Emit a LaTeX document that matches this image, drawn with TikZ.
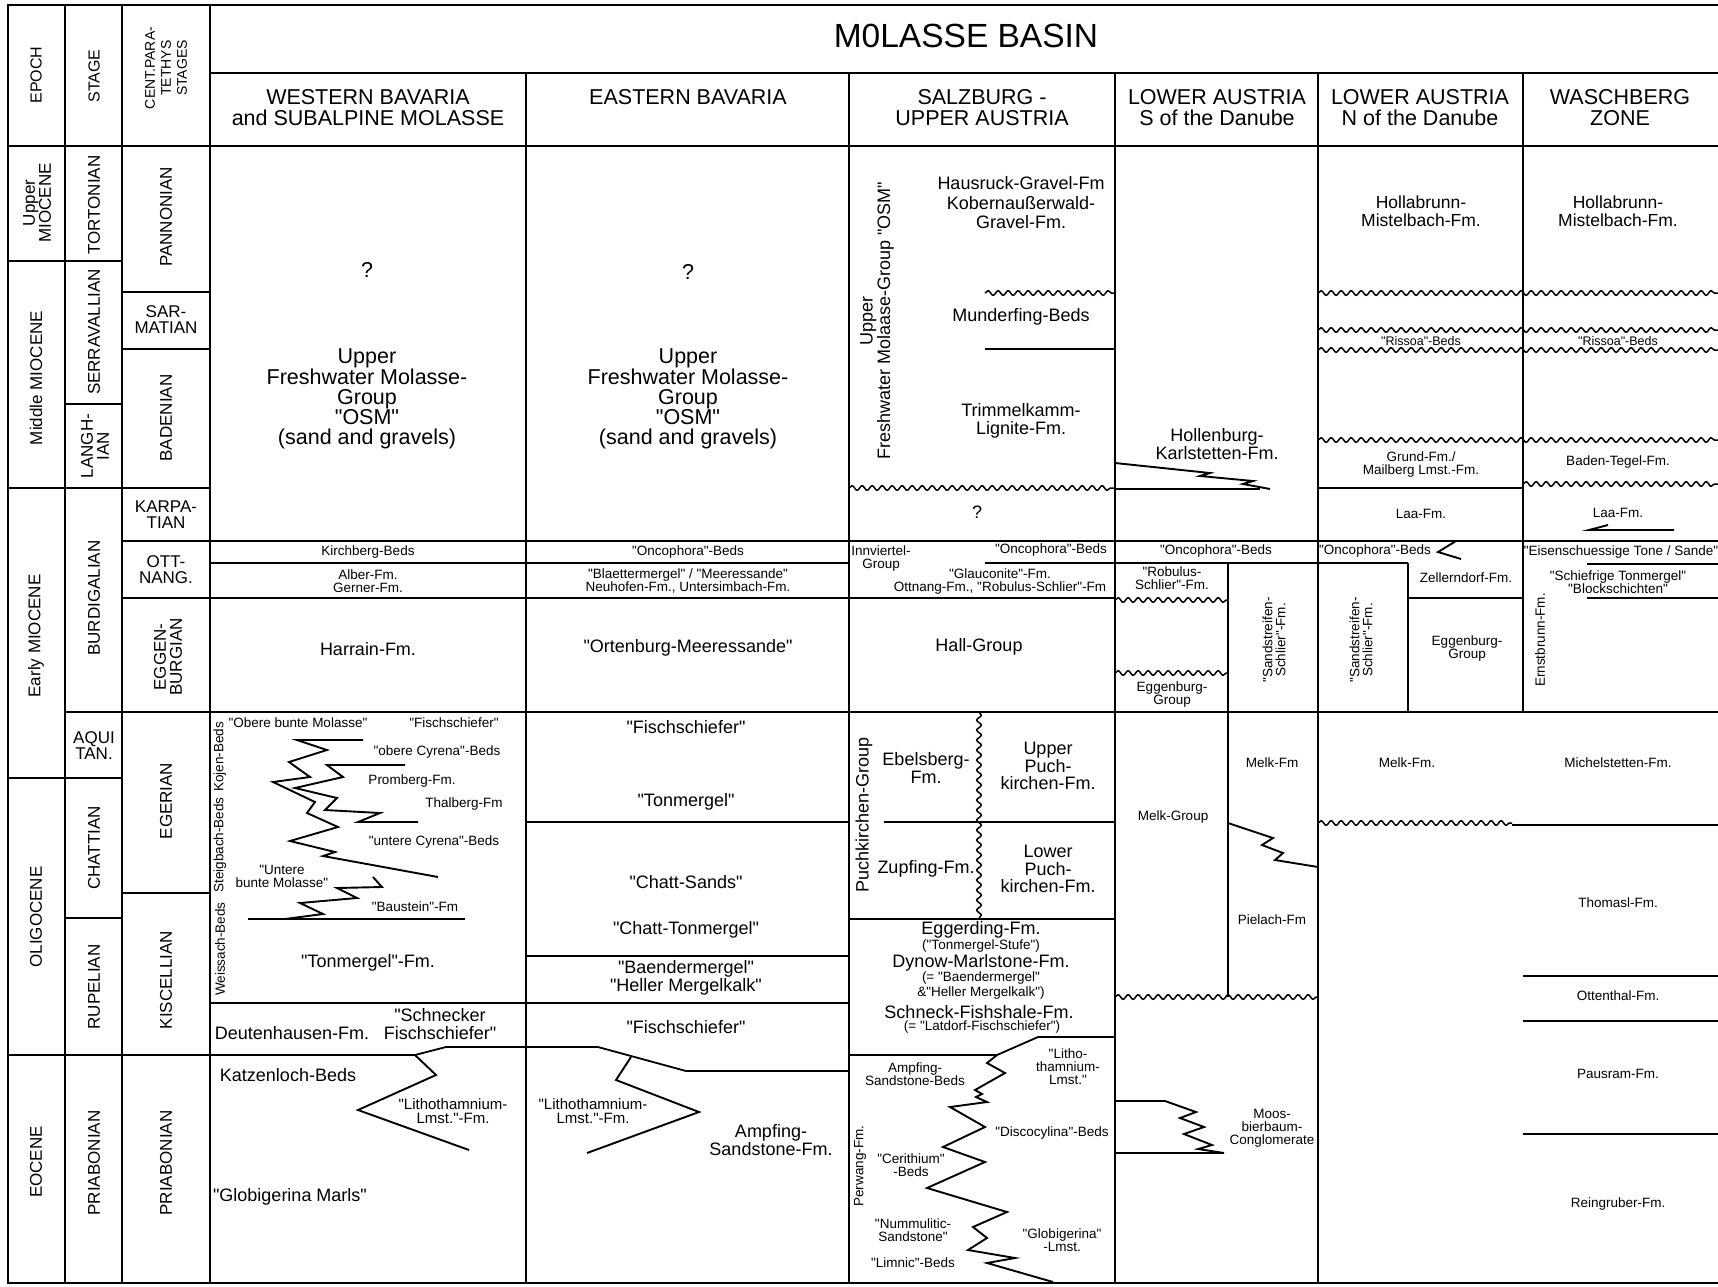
\documentclass[tikz,border=0pt]{standalone}
\usepackage{fontspec}
\setmainfont{Liberation Sans}[Ligatures=TeXOff]
\usetikzlibrary{decorations.pathmorphing}

\newcommand{\fhuge}{\fontsize{33.5}{33}\selectfont}
\newcommand{\fbig}{\fontsize{21.5}{21}\selectfont}
\newcommand{\fage}{\fontsize{17}{16}\selectfont}
\newcommand{\fmid}{\fontsize{18}{17.5}\selectfont}
\newcommand{\fsml}{\fontsize{13.5}{13}\selectfont}
\newcommand{\ftny}{\fontsize{12.5}{12}\selectfont}

\tikzset{
  rule/.style={line width=1.8pt},
  tongue/.style={line width=1.9pt, line join=miter},
  wave/.style={line width=1.5pt, decorate,
    decoration={snake, segment length=10pt, amplitude=2.3pt}},
  lbl/.style={inner sep=0pt, align=center},
  vlbl/.style={inner sep=0pt, align=center, rotate=90},
}

\begin{document}
\begin{tikzpicture}[x=1pt,y=-1pt]
\useasboundingbox (0,0) rectangle (1718,1286);

% frame and columns
\draw[rule] (1718,5) -- (8,5) -- (8,1283) -- (1718,1283);
\draw[rule] (210,73) -- (1718,73);
\draw[rule] (8,146) -- (1718,146);
\foreach \x in {65,122,210} \draw[rule] (\x,5) -- (\x,1283);
\foreach \x in {526,849,1115,1318} \draw[rule] (\x,73) -- (\x,1283);
\draw[rule] (1523,73) -- (1523,712);

% time scale rows
\draw[rule] (8,261) -- (122,261);
\draw[rule] (65,404) -- (122,404);
\draw[rule] (122,292) -- (210,292);
\draw[rule] (122,349) -- (210,349);
\draw[rule] (8,488) -- (210,488);
\draw[rule] (122,541) -- (1718,541);
\draw[rule] (122,598) -- (1115,598);
\draw[rule] (65,712) -- (1718,712);
\draw[rule] (8,778) -- (122,778);
\draw[rule] (122,893) -- (210,893);
\draw[rule] (65,918) -- (122,918);
\draw[rule] (8,1055) -- (210,1055);

% header texts
\node[vlbl, font=\fontsize{16}{16}\selectfont] (tEpoch) at (36,75) {EPOCH};
\node[vlbl, font=\fontsize{16}{16}\selectfont] (tStage) at (94,76) {STAGE};
\node[vlbl, font=\fontsize{14}{16}\selectfont] (tCP) at (166,68) {CENT.PARA-\\TETHYS\\STAGES};
\node[lbl, font=\fhuge] (tBasin) at (966,36) {M0LASSE BASIN};
\node[lbl, font=\fbig] (hWB) at (368,108) {WESTERN BAVARIA\\and SUBALPINE MOLASSE};
\node[lbl, font=\fbig] (hEB) at (688,97) {EASTERN BAVARIA};
\node[lbl, font=\fbig] (hSU) at (982,108) {SALZBURG -\\UPPER AUSTRIA};
\node[lbl, font=\fbig] (hLS) at (1217,108) {LOWER AUSTRIA\\S of the Danube};
\node[lbl, font=\fbig] (hLN) at (1420,108) {LOWER AUSTRIA\\N of the Danube};
\node[lbl, font=\fbig] (hWZ) at (1620,108) {WASCHBERG\\ZONE};

% epochs
\node[vlbl, font=\fage] (eUM) at (37,203) {Upper\\MIOCENE};
\node[vlbl, font=\fage] (eMM) at (36,378) {Middle MIOCENE};
\node[vlbl, font=\fage] (eEM) at (36,636) {Early MIOCENE};
\node[vlbl, font=\fage] (eOl) at (36,917) {OLIGOCENE};
\node[vlbl, font=\fage] (eEo) at (36,1162) {EOCENE};
% stages
\node[vlbl, font=\fage] (sTo) at (94,205) {TORTONIAN};
\node[vlbl, font=\fage] (sSe) at (94,332) {SERRAVALLIAN};
\node[vlbl, font=\fage] (sLa) at (95,446) {LANGH-\\IAN};
\node[vlbl, font=\fage] (sBu) at (94,598) {BURDIGALIAN};
\node[lbl, font=\fage] (sAq) at (94,746) {AQUI\\TAN.};
\node[vlbl, font=\fage] (sCh) at (94,848) {CHATTIAN};
\node[vlbl, font=\fage] (sRu) at (94,987) {RUPELIAN};
\node[vlbl, font=\fage] (sPr) at (94,1163) {PRIABONIAN};
% central paratethys stages
\node[vlbl, font=\fage] (cPa) at (166,217) {PANNONIAN};
\node[lbl, font=\fage] (cSa) at (166,320) {SAR-\\MATIAN};
\node[vlbl, font=\fage] (cBa) at (166,418) {BADENIAN};
\node[lbl, font=\fage] (cKa) at (166,515) {KARPA-\\TIAN};
\node[lbl, font=\fage] (cOt) at (166,570) {OTT-\\NANG.};
\node[vlbl, font=\fage] (cEg) at (168,657) {EGGEN-\\BURGIAN};
\node[vlbl, font=\fage] (cEr) at (166,801) {EGERIAN};
\node[vlbl, font=\fage] (cKi) at (166,980) {KISCELLIAN};
\node[vlbl, font=\fage] (cPr) at (166,1163) {PRIABONIAN};

% --- Western Bavaria
\draw[rule] (210,563) -- (849,563);
\draw[rule] (210,1003) -- (849,1003);
\draw[rule] (210,1055) -- (415,1055) -- (446,1047) -- (598,1047) -- (686,1071) -- (849,1071);
\draw[tongue] (415,1055) -- (436,1075) -- (358,1110) -- (469,1150); % Lithothamnium wedge
\draw[tongue] (363,740) -- (297,740) -- (327,750) -- (289,762) -- (310,777) -- (273,782)
  -- (315,802) -- (307,813) -- (338,827) -- (290,841) -- (335,852) -- (323,856) -- (438,877);
\draw[tongue] (405,765) -- (327,765) -- (343,777) -- (295,788) -- (337,798) -- (325,810)
  -- (380,813) -- (358,822) -- (418,822);
\draw[tongue] (373,877) -- (382,887) -- (337,888) -- (357,898) -- (300,903) -- (323,914) -- (285,919);
\draw[tongue] (248,919) -- (465,919); % Baustein
\node[lbl, font=\fbig] (q1) at (367,270) {?};
\node[lbl, font=\fontsize{21.5}{20}\selectfont] (c1osm) at (367,399) {Upper\\Freshwater Molasse-\\Group\\"OSM"\\(sand and gravels)};
\node[lbl, font=\fsml] (c1kb) at (368,552) {Kirchberg-Beds};
\node[lbl, font=\fsml] (c1ag) at (368,581) {Alber-Fm.\\Gerner-Fm.};
\node[lbl, font=\fmid] (c1ha) at (368,649) {Harrain-Fm.};
\node[lbl, font=\fsml] (c1obm) at (298,723) {"Obere bunte Molasse"};
\node[lbl, font=\fsml] (c1fs) at (454,723) {"Fischschiefer"};
\node[lbl, font=\fsml] (c1oc) at (437,752) {"obere Cyrena"-Beds};
\node[lbl, font=\fsml] (c1pr) at (412,781) {Promberg-Fm.};
\node[lbl, font=\fsml] (c1th) at (464,804) {Thalberg-Fm};
\node[lbl, font=\fsml] (c1uc) at (434,842) {"untere Cyrena"-Beds};
\node[lbl, font=\fsml] (c1ubm) at (282,876) {"Untere\\bunte Molasse"};
\node[lbl, font=\fsml] (c1bs) at (415,907) {"Baustein"-Fm};
\node[vlbl, font=\fsml] (c1kj) at (220,757) {Kojen-Beds};
\node[vlbl, font=\fsml] (c1sb) at (220,845) {Steigbach-Beds};
\node[vlbl, font=\fsml] (c1wb) at (220,949) {Weissach-Beds};
\node[lbl, font=\fmid] (c1tm) at (368,963) {"Tonmergel"-Fm.};
\node[lbl, font=\fmid] (c1dh) at (292,1033) {Deutenhausen-Fm.};
\node[lbl, font=\fmid] (c1sf) at (440,1024) {"Schnecker\\Fischschiefer"};
\node[lbl, font=\fmid] (c1kz) at (288,1075) {Katzenloch-Beds};
\node[lbl, font=\fontsize{15}{14.5}\selectfont] (c1lt) at (453,1111) {"Lithothamnium-\\Lmst."-Fm.};
\node[lbl, font=\fmid] (c1gm) at (290,1197) {"Globigerina Marls"};

% --- Eastern Bavaria
\draw[rule] (526,822) -- (849,822);
\draw[rule] (526,956) -- (849,956);
\draw[tongue] (631,1057) -- (616,1080) -- (699,1112) -- (587,1153);
\node[lbl, font=\fbig] (q2) at (688,272) {?};
\node[lbl, font=\fontsize{21.5}{20}\selectfont] (c2osm) at (688,399) {Upper\\Freshwater Molasse-\\Group\\"OSM"\\(sand and gravels)};
\node[lbl, font=\fsml] (c2ob) at (688,552) {"Oncophora"-Beds};
\node[lbl, font=\fsml] (c2bm) at (688,581) {"Blaettermergel" / "Meeressande"\\Neuhofen-Fm., Untersimbach-Fm.};
\node[lbl, font=\fmid] (c2or) at (688,648) {"Ortenburg-Meeressande"};
\node[lbl, font=\fmid] (c2fs) at (686,727) {"Fischschiefer"};
\node[lbl, font=\fmid] (c2tm) at (686,802) {"Tonmergel"};
\node[lbl, font=\fmid] (c2cs) at (686,882) {"Chatt-Sands"};
\node[lbl, font=\fmid] (c2ct) at (686,930) {"Chatt-Tonmergel"};
\node[lbl, font=\fmid] (c2bh) at (686,978) {"Baendermergel"\\"Heller Mergelkalk"};
\node[lbl, font=\fmid] (c2fs2) at (686,1027) {"Fischschiefer"};
\node[lbl, font=\fontsize{15}{14.5}\selectfont] (c2lt) at (593,1111) {"Lithothamnium-\\Lmst."-Fm.};
\node[lbl, font=\fmid] (c2am) at (771,1140) {Ampfing-\\Sandstone-Fm.};

% --- Salzburg - Upper Austria
\draw[wave] (985,293) -- (1115,293);
\draw[rule] (985,349) -- (1115,349);
\draw[wave] (849,488) -- (1115,488);
\draw[rule] (985,563) -- (1408,563);
\draw[wave] (979,712) -- (979,919);
\draw[rule] (884,822) -- (1115,822);
\draw[rule] (849,919) -- (1115,919);
\draw[rule] (849,1055) -- (997,1055) -- (1038,1037) -- (1115,1037);
\draw[tongue] (997,1055) -- (987,1063) -- (1005,1073) -- (975,1090) -- (982,1094) -- (976,1097)
  -- (987,1102) -- (950,1107) -- (985,1127) -- (943,1147) -- (985,1162) -- (927,1188)
  -- (1007,1212) -- (973,1227) -- (987,1238) -- (968,1250) -- (1015,1258) -- (987,1263) -- (1053,1282);
\node[vlbl, font=\fmid] (c3osm) at (877,321) {Upper\\Freshwater Molaase-Group "OSM"};
\node[lbl, font=\fontsize{18}{19.5}\selectfont] (c3ha) at (1021,203) {Hausruck-Gravel-Fm\\Kobernaußerwald-\\Gravel-Fm.};
\node[lbl, font=\fmid] (c3mu) at (1021,317) {Munderfing-Beds};
\node[lbl, font=\fmid] (c3tr) at (1021,421) {Trimmelkamm-\\Lignite-Fm.};
\node[lbl, font=\fmid] (q3) at (977,512) {?};
\node[lbl, font=\fsml] (c3iv) at (881,558) {Innviertel-\\Group};
\node[lbl, font=\fsml] (c3ob) at (1051,550) {"Oncophora"-Beds};
\node[lbl, font=\fsml] (c3gl) at (1000,581) {"Glauconite"-Fm.\\Ottnang-Fm., "Robulus-Schlier"-Fm};
\node[lbl, font=\fmid] (c3hg) at (979,647) {Hall-Group};
\node[vlbl, font=\fmid] (c3pk) at (864,815) {Puchkirchen-Group};
\node[lbl, font=\fmid] (c3eb) at (926,768) {Ebelsberg-\\Fm.};
\node[lbl, font=\fmid] (c3up) at (1048,766) {Upper\\Puch-\\kirchen-Fm.};
\node[lbl, font=\fmid] (c3zu) at (926,869) {Zupfing-Fm.};
\node[lbl, font=\fmid] (c3lp) at (1048,869) {Lower\\Puch-\\kirchen-Fm.};
\node[lbl, font=\fmid] (c3e1) at (981,930) {Eggerding-Fm.};
\node[lbl, font=\fsml] (c3e2) at (981,946) {("Tonmergel-Stufe")};
\node[lbl, font=\fmid] (c3e3) at (981,963) {Dynow-Marlstone-Fm.};
\node[lbl, font=\fsml] (c3e4) at (981,978) {(= "Baendermergel"};
\node[lbl, font=\fsml] (c3e5) at (981,993) {\&"Heller Mergelkalk")};
\node[lbl, font=\fmid] (c3e6) at (979,1012) {Schneck-Fishshale-Fm.};
\node[lbl, font=\fsml] (c3e7) at (982,1027) {(= "Latdorf-Fischschiefer")};
\node[lbl, font=\fsml] (c3as) at (915,1074) {Ampfing-\\Sandstone-Beds};
\node[lbl, font=\fsml] (c3lt) at (1068,1067) {"Litho-\\thamnium-\\Lmst."};
\node[lbl, font=\fsml] (c3dc) at (1052,1133) {"Discocylina"-Beds};
\node[vlbl, font=\fsml] (c3pw) at (860,1166) {Perwang-Fm.};
\node[lbl, font=\fsml] (c3ce) at (911,1165) {"Cerithium"\\-Beds};
\node[lbl, font=\fsml] (c3nu) at (913,1230) {"Nummulitic-\\Sandstone"};
\node[lbl, font=\fsml] (c3gb) at (1062,1240) {"Globigerina"\\-Lmst.};
\node[lbl, font=\fsml] (c3li) at (913,1263) {"Limnic"-Beds};

% --- Lower Austria S of the Danube
\draw[tongue] (1115,463) -- (1210,473) -- (1200,476) -- (1253,481) -- (1243,484) -- (1270,489);
\draw[rule] (1115,489) -- (1260,489);
\draw[rule] (1228,563) -- (1228,997);
\draw[wave] (1115,600) -- (1228,600);
\draw[wave] (1115,673) -- (1228,673);
\draw[tongue] (1228,823) -- (1273,838) -- (1262,845) -- (1283,853) -- (1275,860) -- (1318,867);
\draw[wave] (1115,997) -- (1318,997);
\draw[tongue] (1115,1101) -- (1165,1101) -- (1196,1112) -- (1180,1118) -- (1204,1127) -- (1184,1134)
  -- (1212,1145) -- (1198,1149) -- (1224,1153) -- (1115,1153);
\node[lbl, font=\fmid] (c4hk) at (1217,444) {Hollenburg-\\Karlstetten-Fm.};
\node[lbl, font=\fsml] (c4ob) at (1216,551) {"Oncophora"-Beds};
\node[lbl, font=\fsml] (c4rs) at (1172,578) {"Robulus-\\Schlier"-Fm.};
\node[lbl, font=\fsml] (c4eg) at (1172,694) {Eggenburg-\\Group};
\node[vlbl, font=\fsml] (c4ss) at (1274,640) {"Sandstreifen-\\Schlier"-Fm.};
\node[lbl, font=\fsml] (c4mf) at (1272,763) {Melk-Fm};
\node[lbl, font=\fsml] (c4mg) at (1173,817) {Melk-Group};
\node[lbl, font=\fsml] (c4pi) at (1272,920) {Pielach-Fm};
\node[lbl, font=\fsml] (c4mo) at (1272,1128) {Moos-\\bierbaum-\\Conglomerate};

% --- Lower Austria N of the Danube and Waschberg Zone
\foreach \y in {293,330,350,440} \draw[wave] (1318,\y) -- (1718,\y);
\draw[rule] (1318,488) -- (1523,488);
\draw[wave] (1523,484) -- (1718,484);
\draw[rule] (1408,563) -- (1408,712);
\draw[tongue] (1456,541) -- (1438,552) -- (1461,559);
\draw[rule] (1408,598) -- (1523,598);
\draw[tongue] (1608,525) -- (1589,530) -- (1674,530);
\draw[rule] (1587,564) -- (1718,564);
\draw[rule] (1587,598) -- (1718,598);
\draw[wave] (1318,823) -- (1512,823);
\draw[rule] (1512,825) -- (1718,825);
\foreach \y in {976,1021,1134} \draw[rule] (1523,\y) -- (1718,\y);
\node[lbl, font=\fontsize{17.5}{17.5}\selectfont] (c5hm) at (1421,211) {Hollabrunn-\\Mistelbach-Fm.};
\node[lbl, font=\ftny] (c5rb) at (1421,341) {"Rissoa"-Beds};
\node[lbl, font=\fsml] (c5gr) at (1421,464) {Grund-Fm./\\Mailberg Lmst.-Fm.};
\node[lbl, font=\fsml] (c5la) at (1421,514) {Laa-Fm.};
\node[lbl, font=\fsml] (c5ob) at (1375,551) {"Oncophora"-Beds};
\node[lbl, font=\fsml] (c5ze) at (1466,578) {Zellerndorf-Fm.};
\node[vlbl, font=\fsml] (c5ss) at (1361,640) {"Sandstreifen-\\Schlier"-Fm.};
\node[lbl, font=\fsml] (c5eg) at (1467,648) {Eggenburg-\\Group};
\node[lbl, font=\fsml] (c5mf) at (1407,763) {Melk-Fm.};
\node[lbl, font=\fontsize{17.5}{17.5}\selectfont] (c6hm) at (1618,211) {Hollabrunn-\\Mistelbach-Fm.};
\node[lbl, font=\ftny] (c6rb) at (1618,341) {"Rissoa"-Beds};
\node[lbl, font=\fsml] (c6bt) at (1618,462) {Baden-Tegel-Fm.};
\node[lbl, font=\fsml] (c6la) at (1618,513) {Laa-Fm.};
\node[lbl, font=\fsml] (c6es) at (1621,552) {"Eisenschuessige Tone / Sande"};
\node[lbl, font=\fsml] (c6st) at (1618,582) {"Schiefrige Tonmergel"\\"Blockschichten"};
\node[vlbl, font=\fsml] (c6eb) at (1540,640) {Ernstbrunn-Fm.};
\node[lbl, font=\fsml] (c6mi) at (1618,763) {Michelstetten-Fm.};
\node[lbl, font=\fsml] (c6th) at (1618,903) {Thomasl-Fm.};
\node[lbl, font=\fsml] (c6ot) at (1618,996) {Ottenthal-Fm.};
\node[lbl, font=\fsml] (c6pa) at (1618,1074) {Pausram-Fm.};
\node[lbl, font=\fsml] (c6re) at (1618,1204) {Reingruber-Fm.};
\end{tikzpicture}
\end{document}
